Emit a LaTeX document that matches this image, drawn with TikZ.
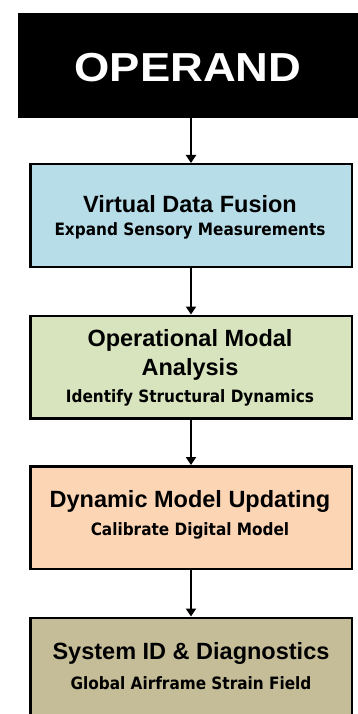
\documentclass[tikz,border=0pt]{standalone}
\usepackage{fontspec}
\setmainfont{Liberation Sans}
\newfontfamily\subfont{DejaVu Sans Condensed}
\usetikzlibrary{arrows.meta}

\definecolor{fusionblue}{HTML}{B7DDE8}
\definecolor{modalgreen}{HTML}{D7E4BD}
\definecolor{updatepeach}{HTML}{FCD5B5}
\definecolor{diagtan}{HTML}{C4BD97}

\tikzset{
  stagebox/.style={draw=black, line width=2.5pt, rectangle, inner sep=0pt,
    outer sep=1.25pt, minimum width=321.5pt, minimum height=102.5pt},
  headbox/.style={fill=black, rectangle, inner sep=0pt, outer sep=0pt,
    minimum width=344pt, minimum height=105pt},
  headtext/.style={anchor=base, text=white, inner sep=0pt,
    font=\bfseries\fontsize{40.5}{44}\selectfont},
  titletext/.style={anchor=base, text=black, inner sep=0pt,
    font=\bfseries\fontsize{23.5}{26}\selectfont},
  subtext/.style={anchor=base, text=black, inner sep=0pt,
    font=\subfont\bfseries\fontsize{17}{19}\selectfont},
  flow/.style={line width=2.6pt, -{Triangle[width=10pt,length=8pt]}}
}

\begin{document}
\begin{tikzpicture}[x=1pt, y=-1pt]
  \useasboundingbox (0,0) rectangle (357,714);

  % header
  \node[headbox] (head) at (190,65.5) {};
  \node[headtext] (headlabel) at (188,82) {\scalebox{1.12}[1]{OPERAND}};

  % processing stages
  \node[stagebox, fill=fusionblue]  (fusion) at (191,215.5) {};
  \node[stagebox, fill=modalgreen]  (modal)  at (191,367)   {};
  \node[stagebox, fill=updatepeach] (update) at (191,517.5) {};
  \node[stagebox, fill=diagtan]     (diag)   at (191,669)   {};

  % stage labels
  \node[titletext] (fusionT) at (190,212) {Virtual Data Fusion};
  \node[subtext]   (fusionS) at (190,235) {Expand Sensory Measurements};

  \node[titletext] (modalT1) at (190,346) {Operational Modal};
  \node[titletext] (modalT2) at (190,375) {Analysis};
  \node[subtext]   (modalS)  at (190,402) {Identify Structural Dynamics};

  \node[titletext] (updateT) at (190,507) {Dynamic Model Updating};
  \node[subtext]   (updateS) at (190,535) {Calibrate Digital Model};

  \node[titletext] (diagT) at (191,659) {System ID \& Diagnostics};
  \node[subtext]   (diagS) at (191,689) {Global Airframe Strain Field};

  % connectors
  \draw[flow] (head.south -| fusion.north) -- (fusion.north);
  \draw[flow] (fusion.south) -- (modal.north);
  \draw[flow] (modal.south)  -- (update.north);
  \draw[flow] (update.south) -- (diag.north);
\end{tikzpicture}
\end{document}
